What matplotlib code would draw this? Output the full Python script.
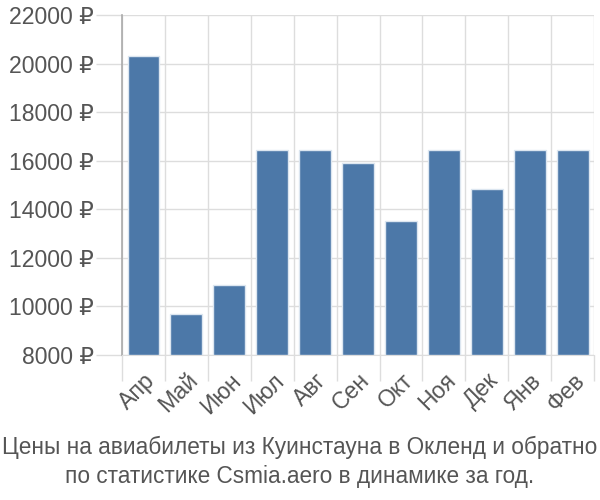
import matplotlib.pyplot as plt
import numpy as np

plt.rcParams['font.family'] = ['Liberation Sans', 'DejaVu Sans']

months = ['Апр', 'Май', 'Июн', 'Июл', 'Авг', 'Сен', 'Окт', 'Ноя', 'Дек', 'Янв', 'Фев']
prices = [20300, 9700, 10900, 16450, 16450, 15900, 13500, 16450, 14850, 16450, 16450]
yticks = [8000, 10000, 12000, 14000, 16000, 18000, 20000, 22000]

fig = plt.figure(figsize=(6, 5), dpi=100)
ax = fig.add_axes([0.2033, 0.29, 0.787, 0.68])

x = np.arange(len(months))
ax.bar(x, np.array(prices) - 8000, bottom=8000, width=0.74, color='#4c78a8',
       edgecolor='#dce6f0', linewidth=1, zorder=3)

ax.set_xlim(-0.5, len(months) - 0.5)
ax.set_ylim(8000, 22000)

ax.set_yticks(yticks)
ax.set_yticklabels([f'{v} ₽' for v in yticks])
ax.set_xticks(x)
ax.set_xticklabels(months)
ax.set_xticks(list(x - 0.5) + [len(x) - 0.5], minor=True)

ax.tick_params(axis='y', length=19, width=1, color='#dddddd',
               labelsize=16.6, labelcolor='#555555', pad=1)
ax.tick_params(axis='x', which='major', length=0, labelsize=16.6,
               labelcolor='#555555', pad=10, labelrotation=45)
ax.tick_params(axis='x', which='minor', length=19, width=1, color='#dddddd')
for lab in ax.get_xticklabels():
    lab.set_ha('right')
    lab.set_rotation_mode('anchor')

ax.grid(True, axis='y', color='#dddddd', linewidth=1, zorder=0)
ax.grid(True, axis='x', which='minor', color='#dddddd', linewidth=1, zorder=0)
ax.grid(False, axis='x', which='major')
for s in ['top', 'right']:
    ax.spines[s].set_visible(False)
ax.spines['bottom'].set_color('#dddddd')
ax.spines['left'].set_color('#aaaaaa')
ax.spines['left'].set_linewidth(1.2)

fig.text(0.5, 0.076, 'Цены на авиабилеты из Куинстауна в Окленд и обратно\nпо статистике Csmia.aero в динамике за год.',
         ha='center', va='center', fontsize=16.3, color='#555555', linespacing=1.3)

fig.savefig('out.png', dpi=100)
